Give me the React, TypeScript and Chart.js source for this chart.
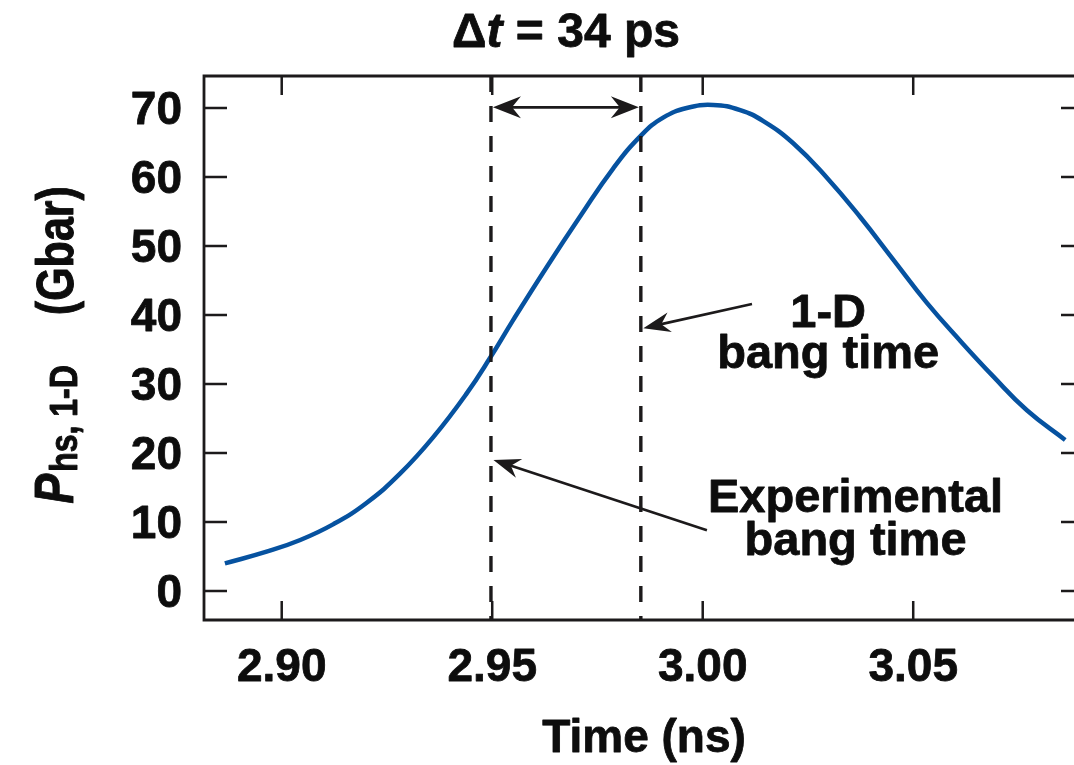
import React, { useEffect, useRef } from 'react';
import { Chart, registerables } from 'chart.js';

Chart.register(...registerables);

// ---- data ----
const timeNs = [
  2.8865, 2.8964, 2.9044, 2.9123, 2.9202, 2.9281, 2.9360, 2.9439, 2.9495, 2.9550,
  2.9630, 2.9709, 2.9788, 2.9855, 2.9906, 2.9962, 3.0025, 3.0089, 3.0144, 3.0215,
  3.0295, 3.0374, 3.0453, 3.0532, 3.0611, 3.0690, 3.0770, 3.0861,
];
const pressureGbar = [
  4.0, 5.7, 7.4, 9.7, 12.8, 17.0, 22.3, 28.6, 33.8, 39.3,
  47.0, 54.3, 61.3, 66.1, 68.6, 70.0, 70.45, 69.7, 68.1, 64.9,
  59.9, 54.2, 48.0, 41.8, 36.3, 31.1, 26.2, 21.9,
];
const xTicks = [2.90, 2.95, 3.00, 3.05];
const xTickLabels = ['2.90', '2.95', '3.00', '3.05'];
const yTicks = [0, 10, 20, 30, 40, 50, 60, 70];
const yTickLabels = ['0', '10', '20', '30', '40', '50', '60', '70'];
const expBangTime = 2.9497;
const oneDBangTime = 2.9853;
const deltaArrowY = 70.1;
const oneDArrow = { fromX: 3.0117, fromY: 41.6, toY: 38.1 };
const expArrow = { fromX: 3.0010, fromY: 8.8, toY: 19.0 };
const oneDLabel = { x: 3.0298, lines: ['1-D', 'bang time'], ys: [38.3, 32.3] };
const expLabel = { x: 3.0363, lines: ['Experimental', 'bang time'], ys: [11.5, 5.2] };

const X_MIN = 2.88154;
const X_MAX = 3.08914;
const Y_MIN = -4.2;
const Y_MAX = 74.64;

const CANVAS_W = 1082;
const CANVAS_H = 765;
const INK = '#1c1a1b';
const TXT = '#0d0d0d';
const CURVE = '#0652a0';
const FAM = '"Liberation Sans", Arial, Helvetica, sans-serif';
const F = (size: number, style = '') => `${style} bold ${size}px ${FAM}`.trim();

type Run = { t: string; font: string; dy?: number; gap?: number };

function fillBold(ctx: CanvasRenderingContext2D, s: string, x: number, y: number) {
  ctx.fillText(s, x, y);
  ctx.strokeText(s, x, y);
}

function runsWidth(ctx: CanvasRenderingContext2D, runs: Run[]) {
  let w = 0;
  for (const r of runs) {
    ctx.font = r.font;
    w += ctx.measureText(r.t).width + (r.gap || 0);
  }
  return w;
}

function drawRuns(ctx: CanvasRenderingContext2D, runs: Run[], cx: number, baseY: number) {
  let x = cx - runsWidth(ctx, runs) / 2;
  ctx.textAlign = 'left';
  ctx.textBaseline = 'alphabetic';
  for (const r of runs) {
    ctx.font = r.font;
    x += r.gap || 0;
    fillBold(ctx, r.t, x, baseY + (r.dy || 0));
    x += ctx.measureText(r.t).width;
  }
}

function arrowHead(ctx: CanvasRenderingContext2D, tipX: number, tipY: number, fromX: number, fromY: number, len = 26, half = 10) {
  const ang = Math.atan2(tipY - fromY, tipX - fromX);
  ctx.save();
  ctx.translate(tipX, tipY);
  ctx.rotate(ang);
  ctx.beginPath();
  ctx.moveTo(0, 0);
  ctx.lineTo(-len, -half);
  ctx.lineTo(-len * 0.68, 0);
  ctx.lineTo(-len, half);
  ctx.closePath();
  ctx.fill();
  ctx.restore();
}

function arrow(ctx: CanvasRenderingContext2D, fx: number, fy: number, tx: number, ty: number, len = 26, half = 10) {
  const d = Math.hypot(tx - fx, ty - fy);
  const ux = (tx - fx) / d, uy = (ty - fy) / d;
  ctx.beginPath();
  ctx.moveTo(fx, fy);
  ctx.lineTo(tx - ux * len * 0.6, ty - uy * len * 0.6);
  ctx.stroke();
  arrowHead(ctx, tx, ty, fx, fy, len, half);
}

const overlay = {
  id: 'overlay',
  afterDatasetsDraw(chart: any) {
    const { ctx, chartArea: a, scales } = chart;
    const xs = scales.x, ys = scales.y;
    const X = (v: number) => xs.getPixelForValue(v);
    const Y = (v: number) => ys.getPixelForValue(v);
    ctx.save();
    ctx.fillStyle = INK;
    ctx.strokeStyle = INK;

    // dashed bang-time lines
    ctx.lineWidth = 3.4;
    ctx.setLineDash([16, 14]);
    for (const t of [expBangTime, oneDBangTime]) {
      const px = X(t);
      ctx.beginPath();
      ctx.moveTo(px, a.top);
      ctx.lineTo(px, a.bottom);
      ctx.stroke();
    }
    ctx.setLineDash([]);

    // frame
    ctx.lineWidth = 2.8;
    ctx.beginPath();
    ctx.moveTo(a.right, a.top);
    ctx.lineTo(a.left, a.top);
    ctx.lineTo(a.left, a.bottom);
    ctx.lineTo(a.right, a.bottom);
    ctx.lineTo(a.right, a.top);
    ctx.stroke();

    // inward ticks
    ctx.lineWidth = 2.5;
    for (const v of yTicks) {
      const py = Y(v);
      ctx.beginPath();
      ctx.moveTo(a.left, py); ctx.lineTo(a.left + 23, py);
      ctx.moveTo(a.right, py); ctx.lineTo(a.right - 17, py);
      ctx.stroke();
    }
    for (const v of xTicks) {
      const px = X(v);
      ctx.beginPath();
      ctx.moveTo(px, a.bottom); ctx.lineTo(px, a.bottom - 19);
      ctx.moveTo(px, a.top); ctx.lineTo(px, a.top + 19);
      ctx.stroke();
    }

    // double arrow (delta t)
    const ay = Y(deltaArrowY);
    const x1 = X(expBangTime), x2 = X(oneDBangTime);
    ctx.lineWidth = 2.6;
    ctx.beginPath();
    ctx.moveTo(x1 + 16, ay); ctx.lineTo(x2 - 16, ay);
    ctx.stroke();
    arrowHead(ctx, x1 + 2, ay, x2, ay, 28, 11);
    arrowHead(ctx, x2 - 2, ay, x1, ay, 28, 11);

    // annotation arrows
    ctx.lineWidth = 2.6;
    arrow(ctx, X(oneDArrow.fromX), Y(oneDArrow.fromY), X(oneDBangTime) + 2.5, Y(oneDArrow.toY), 27, 10);
    arrow(ctx, X(expArrow.fromX), Y(expArrow.fromY), X(expBangTime) + 2.5, Y(expArrow.toY), 27, 10);

    // text: slightly heavier than the stock bold face
    ctx.fillStyle = TXT;
    ctx.strokeStyle = TXT;
    ctx.lineWidth = 0.8;
    ctx.lineJoin = 'round';

    // tick labels
    ctx.font = F(46);
    ctx.textBaseline = 'alphabetic';
    ctx.textAlign = 'right';
    yTicks.forEach((v, i) => fillBold(ctx, yTickLabels[i], a.left - 22, Y(v) + 16));
    ctx.textAlign = 'center';
    xTicks.forEach((v, i) => fillBold(ctx, xTickLabels[i], X(v), a.bottom + 61));

    // x axis title
    ctx.font = F(46);
    ctx.textAlign = 'center';
    fillBold(ctx, 'Time (ns)', 644, 752);

    // y axis title (rotated, glyphs slightly tall as in the reference)
    ctx.save();
    ctx.translate(73, 345);
    ctx.rotate(-Math.PI / 2);
    ctx.scale(1, 1.22);
    drawRuns(ctx, [
      { t: 'P', font: F(45, 'italic') },
      { t: 'hs, 1-D', font: F(32), dy: 3, gap: 2 },
      { t: '(Gbar)', font: F(43), gap: 50 },
    ], 0, 0);
    ctx.restore();

    // top title
    drawRuns(ctx, [
      { t: '\u0394', font: F(48) },
      { t: 't', font: F(48, 'italic') },
      { t: ' = 34 ps', font: F(48) },
    ], 566, 47);

    // annotation labels
    ctx.font = F(47);
    ctx.textAlign = 'center';
    ctx.textBaseline = 'alphabetic';
    oneDLabel.lines.forEach((s, i) => fillBold(ctx, s, X(oneDLabel.x), Y(oneDLabel.ys[i])));
    expLabel.lines.forEach((s, i) => fillBold(ctx, s, X(expLabel.x), Y(expLabel.ys[i])));

    ctx.restore();
  },
};

export default function App() {
  const ref = useRef<HTMLCanvasElement>(null);
  useEffect(() => {
    const chart = new Chart(ref.current as HTMLCanvasElement, {
      type: 'line',
      data: {
        datasets: [
          {
            label: 'P_hs,1-D',
            data: timeNs.map((t, i) => ({ x: t, y: pressureGbar[i] })),
            borderColor: CURVE,
            borderWidth: 4.5,
            pointRadius: 0,
            tension: 0.45,
            cubicInterpolationMode: 'default',
            fill: false,
          } as any,
        ],
      },
      options: {
        responsive: false,
        animation: false,
        devicePixelRatio: 1,
        events: [],
        layout: { padding: { left: 204, top: 76, right: CANVAS_W - 1078, bottom: CANVAS_H - 620 } },
        plugins: { legend: { display: false }, tooltip: { enabled: false }, title: { display: false } },
        scales: {
          x: { type: 'linear', display: false, min: X_MIN, max: X_MAX },
          y: { type: 'linear', display: false, min: Y_MIN, max: Y_MAX },
        },
      },
      plugins: [overlay],
    });
    return () => chart.destroy();
  }, []);
  return (
    <div style={{ position: 'fixed', left: 0, top: 0, width: 1074, height: 765, overflow: 'hidden', background: '#fff' }}>
      <canvas ref={ref} width={CANVAS_W} height={CANVAS_H} style={{ display: 'block' }} />
    </div>
  );
}
